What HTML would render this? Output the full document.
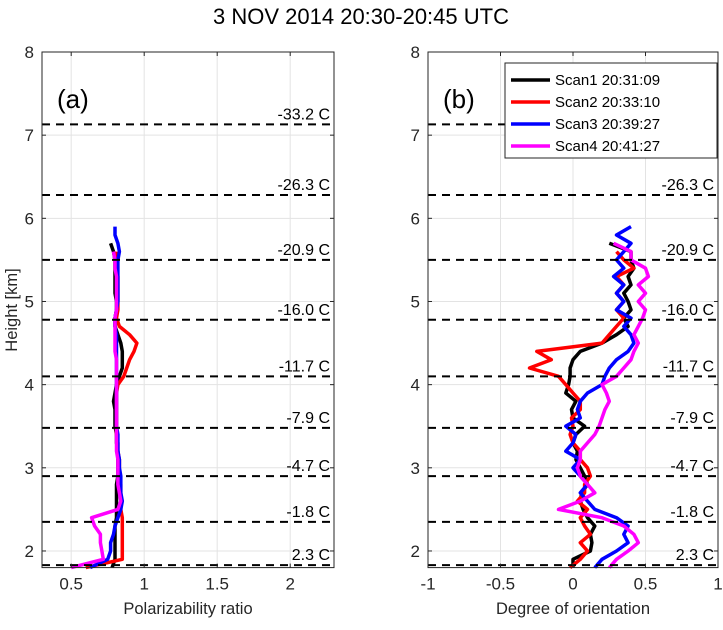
<!DOCTYPE html>
<html><head><meta charset="utf-8"><style>
body{margin:0;background:#fff;}
svg text{font-family:"Liberation Sans",sans-serif;}
</style></head><body>
<svg id="chart" width="723" height="625" xmlns="http://www.w3.org/2000/svg"></svg>
<script>
const heights=[1.8,1.9,2.0,2.1,2.2,2.3,2.4,2.5,2.6,2.7,2.8,2.9,3.0,3.1,3.2,3.3,3.4,3.5,3.6,3.7,3.8,3.9,4.0,4.1,4.2,4.3,4.4,4.5,4.6,4.7,4.8,4.9,5.0,5.1,5.2,5.3,5.4,5.5,5.6,5.7,5.8,5.9];
const seriesNames=["Scan1 20:31:09","Scan2 20:33:10","Scan3 20:39:27","Scan4 20:41:27"];
const seriesColors=["#000000","#ff0000","#0000ff","#ff00ff"];
const polScan1=[0.78,0.8,0.8,0.8,0.8,0.8,0.81,0.81,0.81,0.81,0.81,0.82,0.82,0.82,0.82,0.81,0.81,0.8,0.8,0.8,0.79,0.8,0.81,0.83,0.85,0.85,0.85,0.84,0.82,0.8,0.8,0.81,0.81,0.8,0.8,0.8,0.8,0.8,0.79,0.77,null,null];
const polScan2=[0.6,0.85,0.85,0.85,0.85,0.85,0.85,0.84,0.84,0.84,0.84,0.83,0.83,0.83,0.82,0.82,0.81,0.81,0.81,0.81,0.81,0.81,0.82,0.86,0.88,0.9,0.93,0.95,0.9,0.83,0.81,0.82,0.82,0.82,0.82,0.82,0.81,0.81,0.81,null,null,null];
const polScan3=[0.63,0.75,0.77,0.77,0.79,0.8,0.82,0.84,0.85,0.84,0.84,0.84,0.83,0.83,0.82,0.82,0.82,0.81,0.81,0.81,0.81,0.81,0.81,0.81,0.81,0.81,0.81,0.81,0.81,0.8,0.8,0.81,0.82,0.82,0.82,0.82,0.82,0.82,0.83,0.82,0.8,0.8];
const polScan4=[0.5,0.72,0.71,0.7,0.7,0.66,0.64,0.82,0.84,0.83,0.82,0.82,0.82,0.82,0.81,0.81,0.81,0.81,0.81,0.81,0.81,0.81,0.81,0.81,0.81,0.81,0.8,0.8,0.8,0.8,0.8,0.81,0.81,0.81,0.81,0.81,0.8,0.8,0.79,null,null,null];
const dorScan1=[0.0,0.0,0.12,0.13,0.12,0.15,0.1,0.07,0.05,0.06,0.1,0.08,0.05,0.02,0.03,0.0,0.02,0.08,0.0,-0.01,0.02,-0.05,-0.03,-0.02,-0.02,0.0,0.05,0.2,0.3,0.38,0.35,0.4,0.38,0.35,0.4,0.38,0.42,0.4,0.4,0.25,null,null];
const dorScan2=[-0.02,0.05,0.1,0.05,0.12,0.08,0.05,0.1,0.03,0.08,0.08,0.12,0.1,0.05,0.05,0.0,-0.02,0.0,-0.01,0.05,0.05,0.0,-0.05,-0.1,-0.3,-0.15,-0.25,0.2,0.25,0.3,0.35,0.3,0.35,0.3,0.35,0.3,0.42,0.35,0.3,null,null,null];
const dorScan3=[0.15,0.2,0.3,0.38,0.35,0.38,0.3,0.15,0.1,0.05,0.1,0.05,0.0,0.05,-0.05,0.0,0.02,-0.05,0.05,0.03,0.05,0.1,0.2,0.22,0.25,0.3,0.38,0.42,0.4,0.35,0.4,0.3,0.35,0.3,0.35,0.28,0.35,0.3,0.35,0.4,0.3,0.4];
const dorScan4=[0.25,0.3,0.38,0.45,0.42,0.35,0.2,-0.1,0.05,0.15,0.1,0.05,0.03,0.05,0.05,0.1,0.15,0.18,0.2,0.22,0.25,0.23,0.2,0.3,0.35,0.4,0.42,0.45,0.42,0.45,0.48,0.5,0.45,0.5,0.45,0.52,0.5,0.4,0.4,0.28,null,null];
const tempHeights=[7.13,6.28,5.5,4.78,4.1,3.48,2.9,2.35,1.83];
const tempLabels=["-33.2 C","-26.3 C","-20.9 C","-16.0 C","-11.7 C","-7.9 C","-4.7 C","-1.8 C","2.3 C"];
const yTicks=[2,3,4,5,6,7,8];
const xTicksA=[0.5,1,1.5,2];
const xTicksB=[-1,-0.5,0,0.5,1];

const svg=document.getElementById('chart');
const NS="http://www.w3.org/2000/svg";
function mk(tag,attrs,parent){const e=document.createElementNS(NS,tag);for(const k in attrs)e.setAttribute(k,attrs[k]);(parent||svg).appendChild(e);return e;}
const plotTop=52,plotBottom=567.6,yMin=1.8,yMax=8;
function yS(v){return plotBottom-(v-yMin)/(yMax-yMin)*(plotBottom-plotTop);}

const titleEl=mk('text',{x:361,y:24,'text-anchor':'middle','font-size':22,fill:'#000'});


titleEl.textContent="3 NOV 2014 20:30-20:45 UTC";
const yl=mk('text',{x:0,y:0,transform:'translate(17,310) rotate(-90)','text-anchor':'middle','font-size':16.5,fill:'#262626'});


yl.textContent="Height [km]";

function panel(L,R,xMin,xMax,xTicks,xTitle,tag,series,id){
  const xS=v=>L+(v-xMin)/(xMax-xMin)*(R-L);
  const g=mk('g',{});
  
  
  xTicks.forEach(v=>{mk('line',{x1:xS(v),x2:xS(v),y1:plotTop,y2:plotBottom,stroke:'#e3e3e3','stroke-width':1},g);});
  yTicks.forEach(v=>{mk('line',{x1:L,x2:R,y1:yS(v),y2:yS(v),stroke:'#e3e3e3','stroke-width':1},g);});
  series.forEach((vals,si)=>{
    let d="";let started=false;
    vals.forEach((v,i)=>{if(v===null)return;d+=(started?"L":"M")+xS(v).toFixed(1)+","+yS(heights[i]).toFixed(1);started=true;});
    const p=mk('path',{d:d,fill:'none',stroke:seriesColors[si],'stroke-width':3.5,'stroke-linejoin':'round'},g);
    
    
  });
  tempHeights.forEach((h,i)=>{
    const l=mk('line',{x1:L,x2:R,y1:yS(h),y2:yS(h),stroke:'#000','stroke-width':2,'stroke-dasharray':'8,6'},g);
    
    
    const tx=mk('text',{x:R-4,y:yS(h)-5,'text-anchor':'end','font-size':16,fill:'#000'},g);
    
    
    tx.textContent=tempLabels[i];
  });
  mk('rect',{x:L,y:plotTop,width:R-L,height:plotBottom-plotTop,fill:'none',stroke:'#262626','stroke-width':1},g);
  xTicks.forEach(v=>{
    mk('line',{x1:xS(v),x2:xS(v),y1:plotBottom,y2:plotBottom-4,stroke:'#262626'},g);
    mk('line',{x1:xS(v),x2:xS(v),y1:plotTop,y2:plotTop+4,stroke:'#262626'},g);
    const tx=mk('text',{x:xS(v),y:plotBottom+22,'text-anchor':'middle','font-size':17,fill:'#262626'},g);
    
    
    tx.textContent=String(v);
  });
  yTicks.forEach(v=>{
    mk('line',{x1:L,x2:L+4,y1:yS(v),y2:yS(v),stroke:'#262626'},g);
    mk('line',{x1:R,x2:R-4,y1:yS(v),y2:yS(v),stroke:'#262626'},g);
    const tx=mk('text',{x:L-8,y:yS(v)+6,'text-anchor':'end','font-size':17,fill:'#262626'},g);
    
    
    tx.textContent=String(v);
  });
  const xt=mk('text',{x:(L+R)/2,y:614,'text-anchor':'middle','font-size':16.5,fill:'#262626'},g);
  
  
  xt.textContent=xTitle;
  const pt=mk('text',{x:L+15,y:108,'font-size':26,fill:'#000'},g);
  
  
  pt.textContent=tag;
}
panel(42,334,0.3,2.3,xTicksA,"Polarizability ratio","(a)",[polScan1,polScan2,polScan3,polScan4],'a');
panel(428,718,-1,1,xTicksB,"Degree of orientation","(b)",[dorScan1,dorScan2,dorScan3,dorScan4],'b');

const lg=mk('g',{});


mk('rect',{x:505,y:63,width:212,height:95,fill:'#fff',stroke:'#262626','stroke-width':1},lg);
seriesNames.forEach((n,i)=>{
  const y=80+i*22;
  const l=mk('line',{x1:511,x2:550,y1:y,y2:y,stroke:seriesColors[i],'stroke-width':3.5},lg);
  
  
  const tx=mk('text',{x:555,y:y+5,'font-size':15,fill:'#000'},lg);
  
  
  tx.textContent=n;
});
</script>
</body></html>
